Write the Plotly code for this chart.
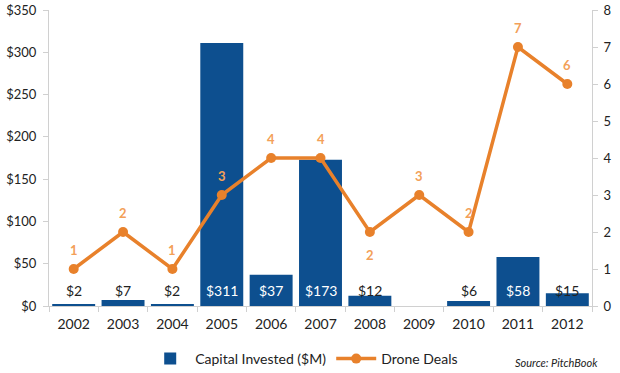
import plotly.graph_objects as go

years = ["2002","2003","2004","2005","2006","2007","2008","2009","2010","2011","2012"]
capital = [2, 7, 2, 311, 37, 173, 12, None, 6, 58, 15]
deals = [1, 2, 1, 3, 4, 4, 2, 3, 2, 7, 6]
deal_label_pos = ["above","above","above","above","above","above","below","above","above","above","above"]
left_ticks = [0, 50, 100, 150, 200, 250, 300, 350]
right_ticks = [0, 1, 2, 3, 4, 5, 6, 7, 8]

BLUE = "#0D4F8F"
ORANGE = "#E8812B"
LABEL_ORANGE = "#F3A058"
FONT = "Lato, Open Sans, sans-serif"

fig = go.Figure()
fig.add_trace(go.Bar(x=years, y=capital, name="Capital Invested ($M)",
                     marker=dict(color=BLUE, line=dict(width=0)), yaxis="y"))
fig.add_trace(go.Scatter(x=years, y=deals, name="Drone Deals", mode="lines+markers",
                         line=dict(color=ORANGE, width=3.5),
                         marker=dict(color=ORANGE, size=10), yaxis="y2"))

anns = []
for i, v in enumerate(capital):
    if v is None:
        continue
    anns.append(dict(x=i, y=0, xref="x", yref="y", text=f"${v}", showarrow=False,
                     yshift=16, font=dict(family=FONT, size=14,
                                          color="white" if v > 20 else "#222222")))
for i, (d, pos) in enumerate(zip(deals, deal_label_pos)):
    anns.append(dict(x=i, y=d, xref="x", yref="y2", text=f"<b>{d}</b>", showarrow=False,
                     yshift=19 if pos == "above" else -23,
                     font=dict(family=FONT, size=13, color=LABEL_ORANGE)))
anns.append(dict(x=1.015, y=-0.19, xref="paper", yref="paper", text="<i>Source: PitchBook</i>",
                 showarrow=False, xanchor="right", yanchor="middle",
                 font=dict(family=FONT, size=11, color="#222222")))

fig.update_layout(
    width=620, height=373,
    margin=dict(l=49, r=28, t=10, b=67, autoexpand=False),
    plot_bgcolor="white", paper_bgcolor="white",
    font=dict(family=FONT, size=13, color="#222222"),
    bargap=0.13,
    showlegend=True,
    legend=dict(orientation="h", x=0.47, xanchor="center", y=-0.125, yanchor="top",
                font=dict(family=FONT, size=14, color="#222222"), itemwidth=40),
    xaxis=dict(type="category", range=[-0.5, len(years) - 0.5], showgrid=False,
               showline=True, linecolor="#D0D0D0",
               ticks="outside", tickson="boundaries", ticklen=5, tickcolor="#D0D0D0",
               tickfont=dict(size=14), ticklabelstandoff=5),
    yaxis=dict(range=[0, 350], tickvals=left_ticks, ticktext=[f"${t}" for t in left_ticks],
               showgrid=False, showline=True, linecolor="#D0D0D0", ticks="outside",
               ticklen=5, tickcolor="#D0D0D0", zeroline=False, tickfont=dict(size=13),
               ticklabelstandoff=4),
    yaxis2=dict(range=[0, 8], tickvals=right_ticks, overlaying="y", side="right",
                showgrid=False, showline=True, linecolor="#D0D0D0", ticks="outside",
                ticklen=5, tickcolor="#D0D0D0", zeroline=False, tickfont=dict(size=13),
                ticklabelstandoff=3),
    annotations=anns,
)

fig.write_html("out.html", config={"displayModeBar": False},
               post_script="document.body.style.margin='0';document.body.style.overflow='hidden';")
